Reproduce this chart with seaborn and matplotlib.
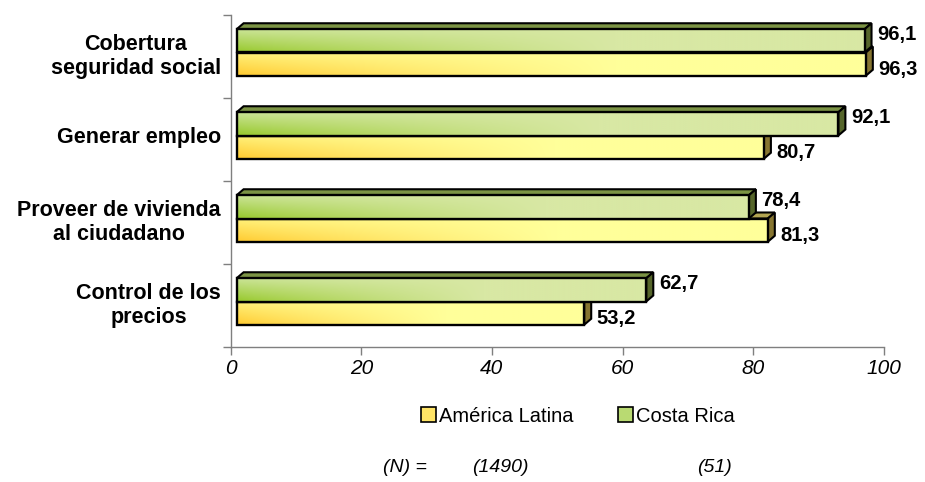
import numpy as np
import pandas as pd
import seaborn as sns
import matplotlib
matplotlib.use("Agg")
import matplotlib.pyplot as plt
import matplotlib.colors as mcolors
from matplotlib.patches import Polygon, Patch

# data
categories = ["Cobertura\nseguridad social", "Generar empleo",
              "Proveer de vivienda\nal ciudadano", "Control de los\nprecios"]
costa_rica = [96.1, 92.1, 78.4, 62.7]
america_latina = [96.3, 80.7, 81.3, 53.2]
series = ["Costa Rica", "América Latina"]
x_ticks = [0, 20, 40, 60, 80, 100]
n_labels = ["(N) =", "(1490)", "(51)"]

df = pd.DataFrame({
    "categoria": categories * 2,
    "valor": costa_rica + america_latina,
    "pais": [series[0]] * len(categories) + [series[1]] * len(categories),
})

# look of the fake 3D bars: (top-left, bottom-left, pale right, top face, side face)
styles = {
    "Costa Rica": ("#cde59c", "#97c92c", "#d8e8a4", "#7b9344", "#56662b"),
    "América Latina": ("#fff27c", "#ffc92e", "#ffff9a", "#b3a552", "#867530"),
}

sns.set_theme(style="white")
plt.rcParams["font.family"] = ["Liberation Sans", "DejaVu Sans"]
plt.rcParams["text.color"] = "black"

W, H = 925, 482
fig = plt.figure(figsize=(W / 100, H / 100), dpi=100)
left, right, top, bottom = 230.6, 884.0, 15.0, 347.0
ax = fig.add_axes([left / W, 1 - bottom / H, (right - left) / W, (bottom - top) / H])

sns.barplot(data=df, y="categoria", x="valor", hue="pais", order=categories,
            hue_order=series, orient="h", width=0.56, saturation=1,
            legend=False, ax=ax)

# pixel -> data conversions for the 3D offsets
px_x = 100 / (right - left)
px_y = len(categories) / (bottom - top)
shift = 6 * px_x          # front face sits a bit right of the axis
dx, dy = 7 * px_x, 6 * px_y
d = 4.0 * px_y            # bars sit slightly above the category centre


def gradient(c_top, c_bot, c_pale):
    ys = np.linspace(0, 1, 60)[:, None, None]
    xs = np.linspace(0, 1, 300)[None, :, None]
    vert = np.array(mcolors.to_rgb(c_top)) * (1 - ys) + np.array(mcolors.to_rgb(c_bot)) * ys
    w = np.clip(xs / 0.6, 0, 1) ** 0.8
    return vert * (1 - w) + np.array(mcolors.to_rgb(c_pale)) * w


# yellow first so the green front faces cover its top faces
for cont, name, z in [(ax.containers[1], series[1], 2), (ax.containers[0], series[0], 6)]:
    c_top, c_bot, c_pale, c_face, c_side = styles[name]
    img = gradient(c_top, c_bot, c_pale)
    for bar in cont:
        bar.set_x(bar.get_x() + shift)
        x0, w = bar.get_x(), bar.get_width()
        y0, h = bar.get_y(), bar.get_height()
        x1, y1 = x0 + w, y0 + h
        bar.set_facecolor("none")
        bar.set_edgecolor("black")
        bar.set_linewidth(1.7)
        bar.set_zorder(z + 2)
        im = ax.imshow(img, extent=[x0, x1, y1, y0], origin="upper",
                       aspect="auto", zorder=z + 1, interpolation="bilinear")
        im.set_clip_path(bar)
        ax.add_patch(Polygon([(x0, y0), (x0 + dx, y0 - dy), (x1 + dx, y0 - dy), (x1, y0)],
                             closed=True, facecolor=c_face, edgecolor="black",
                             linewidth=1.5, zorder=z))
        ax.add_patch(Polygon([(x1, y0), (x1 + dx, y0 - dy), (x1 + dx, y1 - dy), (x1, y1)],
                             closed=True, facecolor=c_side, edgecolor="black",
                             linewidth=1.5, zorder=z))
        yc = y0 + h / 2
        off = 4.3 if name == "Costa Rica" else -3.6
        ax.annotate(f"{w:.1f}".replace(".", ","), xy=(x1 + dx, yc),
                    xytext=(4.0, off), textcoords="offset points",
                    ha="left", va="center", fontsize=14.5, fontweight="bold",
                    color="black", zorder=10)

n = len(categories)
ax.set_xlim(0, 100)
ax.set_ylim(n - 0.5 + d, -0.5 + d)
ax.set_xticks(x_ticks)
ax.set_xticklabels([str(t) for t in x_ticks], fontsize=15, style="italic")
ax.set_yticks(np.arange(n + 1) - 0.5 + d)
ax.set_yticklabels([])
ax.set_yticks(np.arange(n), minor=True)
ax.set_yticklabels(categories, minor=True, fontsize=15.5, fontweight="bold")
for lbl in ax.get_yticklabels(minor=True):
    lbl.set_multialignment("center")
ax.tick_params(axis="y", which="minor", length=0, pad=7, labelcolor="black")
ax.tick_params(axis="y", which="major", length=6, width=1, color="#7f7f7f",
               direction="out", left=True)
ax.tick_params(axis="x", length=6, width=1, color="#7f7f7f", direction="out",
               pad=3, bottom=True, labelcolor="black")
ax.set_xlabel("")
ax.set_ylabel("")
for s in ["top", "right"]:
    ax.spines[s].set_visible(False)
for s in ["left", "bottom"]:
    ax.spines[s].set_color("#7f7f7f")
    ax.spines[s].set_linewidth(1)

handles = [Patch(facecolor="#ffe466", edgecolor="black", linewidth=1.2, label=series[1]),
           Patch(facecolor="#b9da72", edgecolor="black", linewidth=1.2, label=series[0])]
fig.legend(handles=handles, loc="center", bbox_to_anchor=(578 / W, 1 - 416 / H),
           ncol=2, frameon=False, fontsize=14.5, handlelength=0.75, handleheight=0.75,
           handletextpad=0.15, columnspacing=2.2)

for label, xp in zip(n_labels, [383, 472, 697]):
    fig.text(xp / W, 1 - 467 / H, label, fontsize=14, style="italic",
             ha="left", va="center")

fig.savefig("out.png", dpi=100)
